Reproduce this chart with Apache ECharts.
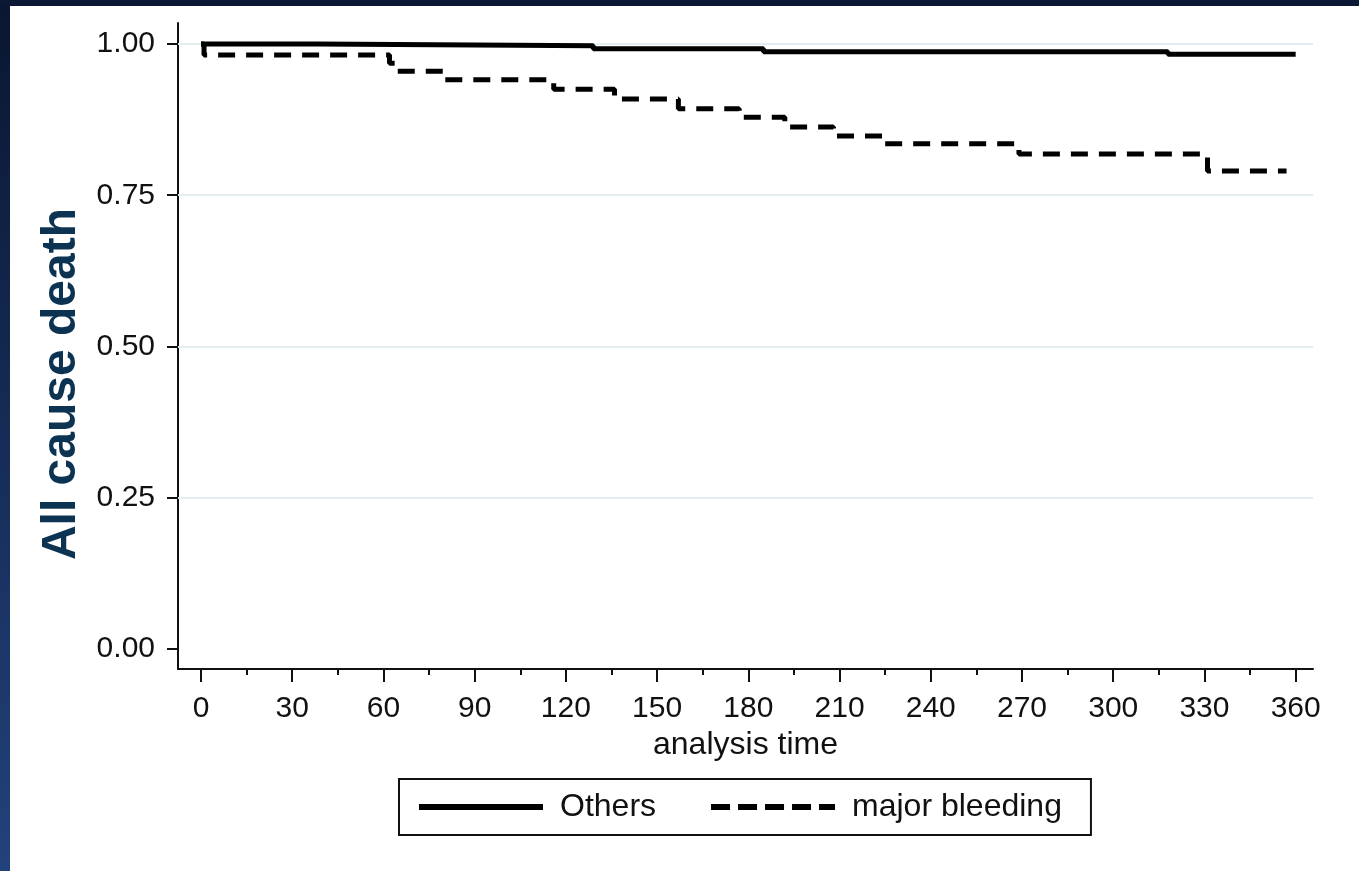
<!DOCTYPE html>
<html>
<head>
<meta charset="utf-8">
<script src="https://cdn.jsdelivr.net/npm/echarts@6/dist/echarts.min.js"></script>
<style>
html,body{margin:0;padding:0;background:#fff;}
#chart{width:1359px;height:871px;}
</style>
</head>
<body>
<div id="chart"></div>
<script>
// ---- data ----
const othersTime = [0, 38, 129, 185, 318, 360];
const othersSurv = [1.0, 0.997, 0.992, 0.987, 0.983, 0.983];
const majorTime = [0, 1, 62, 64, 80, 116, 136, 157, 177, 192, 208, 225, 269, 331, 357];
const majorSurv = [1.0, 0.982, 0.968, 0.955, 0.941, 0.925, 0.909, 0.893, 0.879, 0.863, 0.848, 0.835, 0.818, 0.790, 0.790];
const xTickLabels = [0, 30, 60, 90, 120, 150, 180, 210, 240, 270, 300, 330, 360];
const xMinorTicks = [15, 45, 75, 105, 135, 165, 195, 225, 255, 285, 315, 345];
const yTickLabels = [0, 0.25, 0.5, 0.75, 1];
const yGridValues = [0.25, 0.5, 0.75, 1];
const seriesNames = ['Others', 'major bleeding'];
const yTitle = 'All cause death';
const xTitle = 'analysis time';

const FONT = '"Liberation Sans", Arial, sans-serif';
const chart = echarts.init(document.getElementById('chart'), null, {renderer: 'canvas'});

function pairs(t, s) { return t.map((v, i) => [v, s[i]]); }

const xMin = -7.56, xMax = 365.7, yMin = -0.0331, yMax = 1.0347;

const option = {
  backgroundColor: '#ffffff',
  animation: false,
  graphic: [
    {type: 'rect', left: 0, top: 0, z: 100, shape: {width: 10, height: 871},
     style: {fill: new echarts.graphic.LinearGradient(0, 0, 0, 1, [{offset: 0, color: '#0a1631'}, {offset: 1, color: '#22427b'}])}},
    {type: 'rect', left: 0, top: 0, z: 100, shape: {width: 1359, height: 6}, style: {fill: '#0b1733'}}
  ],
  grid: {left: 178, right: 46, top: 23, bottom: 202, containLabel: false},
  xAxis: [
    {
      type: 'value', min: xMin, max: xMax, position: 'bottom',
      name: xTitle, nameLocation: 'middle', nameGap: 57,
      nameTextStyle: {fontFamily: FONT, fontSize: 32, color: '#111'},
      axisLine: {show: true, onZero: false, lineStyle: {color: '#111', width: 2}},
      axisTick: {show: true, length: 13, customValues: xTickLabels, lineStyle: {color: '#111', width: 2}},
      axisLabel: {show: true, customValues: xTickLabels, margin: 25, fontFamily: FONT, fontSize: 30, color: '#111'},
      splitLine: {show: false}
    },
    {
      type: 'value', min: xMin, max: xMax, position: 'bottom',
      axisLine: {show: false, onZero: false},
      axisTick: {show: true, length: 6, customValues: xMinorTicks, lineStyle: {color: '#111', width: 2}},
      axisLabel: {show: false},
      splitLine: {show: false}
    }
  ],
  yAxis: {
    type: 'value', min: yMin, max: yMax,
    name: yTitle, nameLocation: 'middle', nameGap: 90,
    nameTextStyle: {fontFamily: FONT, fontSize: 48, fontWeight: 'bold', color: '#0d3352', padding: [0, 76, 0, 0]},
    axisLine: {show: true, onZero: false, lineStyle: {color: '#111', width: 2}},
    axisTick: {show: true, length: 11, customValues: yTickLabels, lineStyle: {color: '#111', width: 2}},
    axisLabel: {show: true, customValues: yTickLabels, margin: 23, fontFamily: FONT, fontSize: 30, color: '#111',
      formatter: v => v.toFixed(2)},
    splitLine: {show: false}
  },
  legend: {
    data: [
      {name: seriesNames[0], lineStyle: {width: 6, type: 'solid', color: '#000'}},
      {name: seriesNames[1], lineStyle: {width: 6, type: [19, 8], color: '#000'}}
    ],
    left: 399, top: 779,
    orient: 'horizontal',
    backgroundColor: '#fff',
    borderColor: '#111', borderWidth: 2, borderRadius: 0,
    padding: [12, 29, 12, 17],
    itemWidth: 124, itemHeight: 14, itemGap: 52,
    itemStyle: {opacity: 0},
    lineStyle: {width: 6},
    textStyle: {fontFamily: FONT, fontSize: 32, color: '#111', padding: [0, 0, 0, 12]},
    selectedMode: false
  },
  series: [
    {
      name: '_grid', type: 'line', data: [], z: 1, silent: true,
      markLine: {
        silent: true, symbol: ['none', 'none'], label: {show: false},
        lineStyle: {color: '#e4eef1', width: 2, type: 'solid'},
        data: yGridValues.map(v => ({yAxis: v}))
      }
    },
    {
      name: seriesNames[0], type: 'line', step: 'end', symbol: 'none', z: 5,
      data: pairs(othersTime, othersSurv),
      lineStyle: {color: '#000', width: 5, type: 'solid'},
      itemStyle: {color: '#000'}
    },
    {
      name: seriesNames[1], type: 'line', step: 'end', symbol: 'none', z: 4,
      data: pairs(majorTime, majorSurv),
      lineStyle: {color: '#000', width: 5, type: [17, 11]},
      itemStyle: {color: '#000'}
    }
  ]
};
chart.setOption(option);
</script>
</body>
</html>
